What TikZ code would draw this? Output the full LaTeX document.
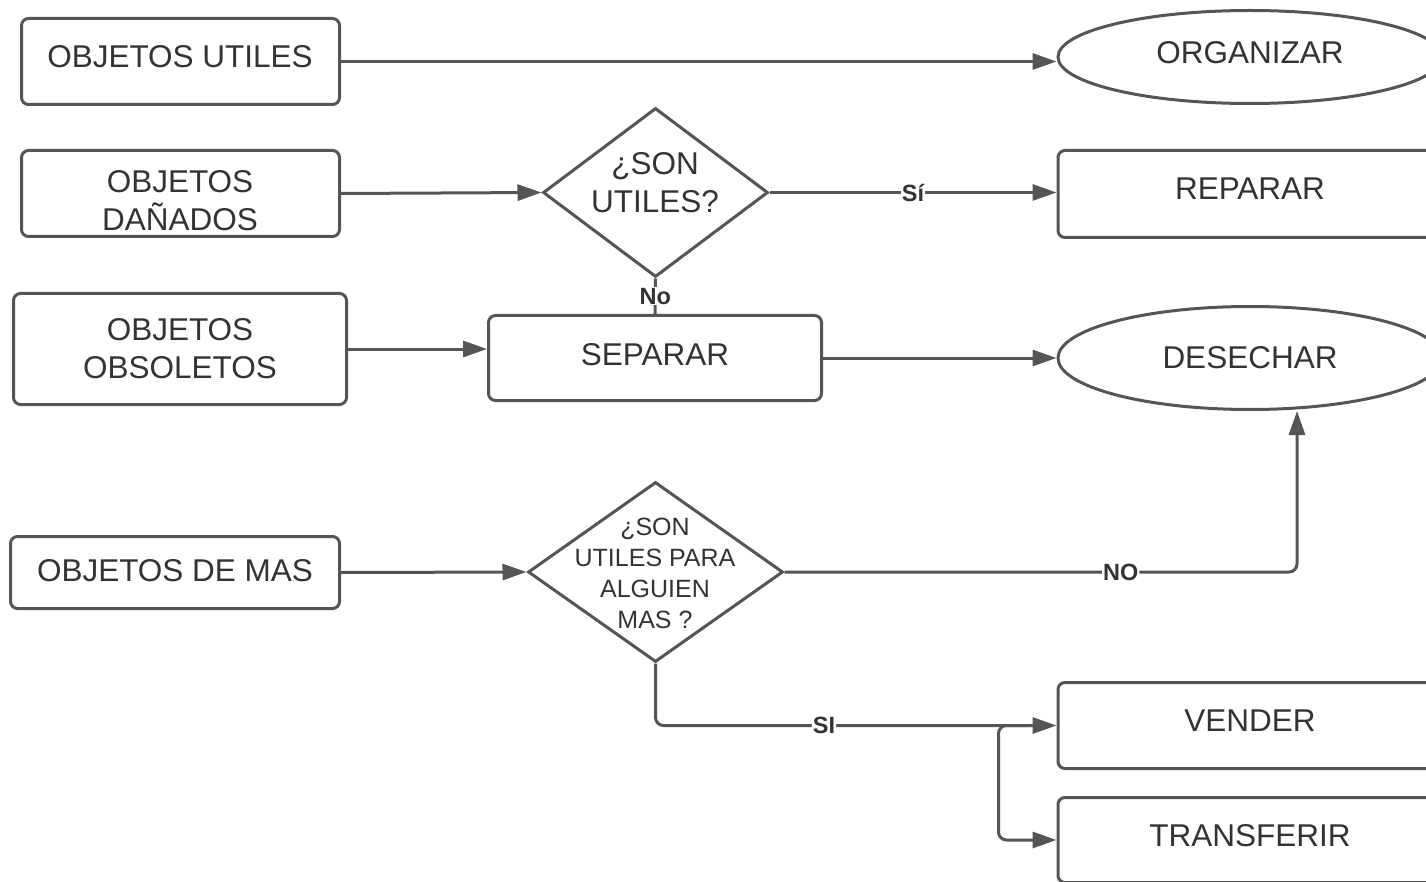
\documentclass[tikz,border=0pt]{standalone}
\usepackage{fontspec}
\setmainfont{Liberation Sans}
\usetikzlibrary{shapes.geometric,arrows.meta,calc}
\definecolor{ln}{HTML}{555555}
\definecolor{tx}{HTML}{333333}
\begin{document}
\begin{tikzpicture}[x=1pt,y=-1pt,
  rbox/.style={draw=ln,line width=3pt,rounded corners=7pt,inner sep=0pt,fill=white},
  oval/.style={ellipse,draw=ln,line width=3pt,inner sep=0pt,fill=white,minimum width=384pt},
  dia/.style={diamond,draw=ln,line width=3pt,inner sep=0pt,fill=white},
  txt/.style={text=tx,font=\fontsize{31.5}{38}\selectfont,align=center,inner sep=0pt},
  stxt/.style={text=tx,font=\fontsize{25}{31}\selectfont,align=center,inner sep=0pt},
  lbl/.style={text=tx,font=\bfseries\fontsize{23.5}{25}\selectfont,fill=white,inner sep=1pt},
  conn/.style={draw=ln,line width=3pt,-{Triangle[length=24pt,width=16pt]}},
  plainln/.style={draw=ln,line width=3pt}]
\useasboundingbox (0,0) rectangle (1426,882);
\clip (0,0) rectangle (1426,882);
\fill[white] (0,0) rectangle (1426,882);

% shapes
\node[rbox,minimum width=318pt,minimum height=86pt] (utiles) at (180.5,61.5) {};
\node[rbox,minimum width=318pt,minimum height=86pt] (danados) at (180.5,193.5) {};
\node[rbox,minimum width=333pt,minimum height=111pt] (obsoletos) at (180,349) {};
\node[rbox,minimum width=329pt,minimum height=72pt] (demas) at (175,572.5) {};
\node[dia,minimum width=225pt,minimum height=169pt] (d1) at (655.5,192.5) {};
\node[rbox,minimum width=333pt,minimum height=85pt] (separar) at (655,358) {};
\node[dia,minimum width=255pt,minimum height=180pt] (d2) at (655.5,572) {};
\node[oval,minimum height=93pt] (organizar) at (1250,57) {};
\node[rbox,minimum width=384pt,minimum height=87pt] (reparar) at (1250,194) {};
\node[oval,minimum height=103pt] (desechar) at (1250,358) {};
\node[rbox,minimum width=384pt,minimum height=86pt] (vender) at (1250,725.5) {};
\node[rbox,minimum width=384pt,minimum height=85pt] (transferir) at (1250,840) {};

% texts
\node[txt] (tutiles) at (180,57) {OBJETOS UTILES};
\node[txt] (tdanados) at (180,201) {OBJETOS\\DAÑADOS};
\node[txt] (tobsoletos) at (180,349) {OBJETOS\\OBSOLETOS};
\node[txt] (tdemas) at (175,571) {OBJETOS DE MAS};
\node[txt] (td1) at (655,183) {¿SON\\UTILES?};
\node[txt] (tseparar) at (655,355) {SEPARAR};
\node[stxt] (td2) at (655,573) {¿SON\\UTILES PARA\\ALGUIEN\\MAS ?};
\node[txt] (torganizar) at (1250,53) {ORGANIZAR};
\node[txt] (treparar) at (1250,189) {REPARAR};
\node[txt] (tdesechar) at (1250,358) {DESECHAR};
\node[txt] (tvender) at (1250,721) {VENDER};
\node[txt] (ttransferir) at (1250,836) {TRANSFERIR};

% connectors
\draw[conn] (utiles.east) -- (organizar.west |- utiles.east);
\draw[conn] (danados.east) -- (d1.west);
\draw[conn] (d1.east) -- node[lbl] {Sí} (reparar.west |- d1.east);
\draw[plainln] (d1.south) -- node[lbl] {No} (separar.north);
\draw[conn] (obsoletos.east) -- (separar.west |- obsoletos.east);
\draw[conn] (separar.east) -- (desechar.west |- separar.east);
\draw[conn] (demas.east) -- (d2.west);
\draw[conn,rounded corners=8pt] (d2.east) -| node[lbl,pos=0.328] {NO} ([xshift=47pt]desechar.south);
\draw[conn,rounded corners=8pt] (d2.south) |- node[lbl,pos=0.71] {SI} (vender.west);
\coordinate (br) at (1030,725.5);
\draw[conn,rounded corners=8pt] (br) -| ($(transferir.west)+(-58,0)$) -- (transferir.west);
\end{tikzpicture}
\end{document}
